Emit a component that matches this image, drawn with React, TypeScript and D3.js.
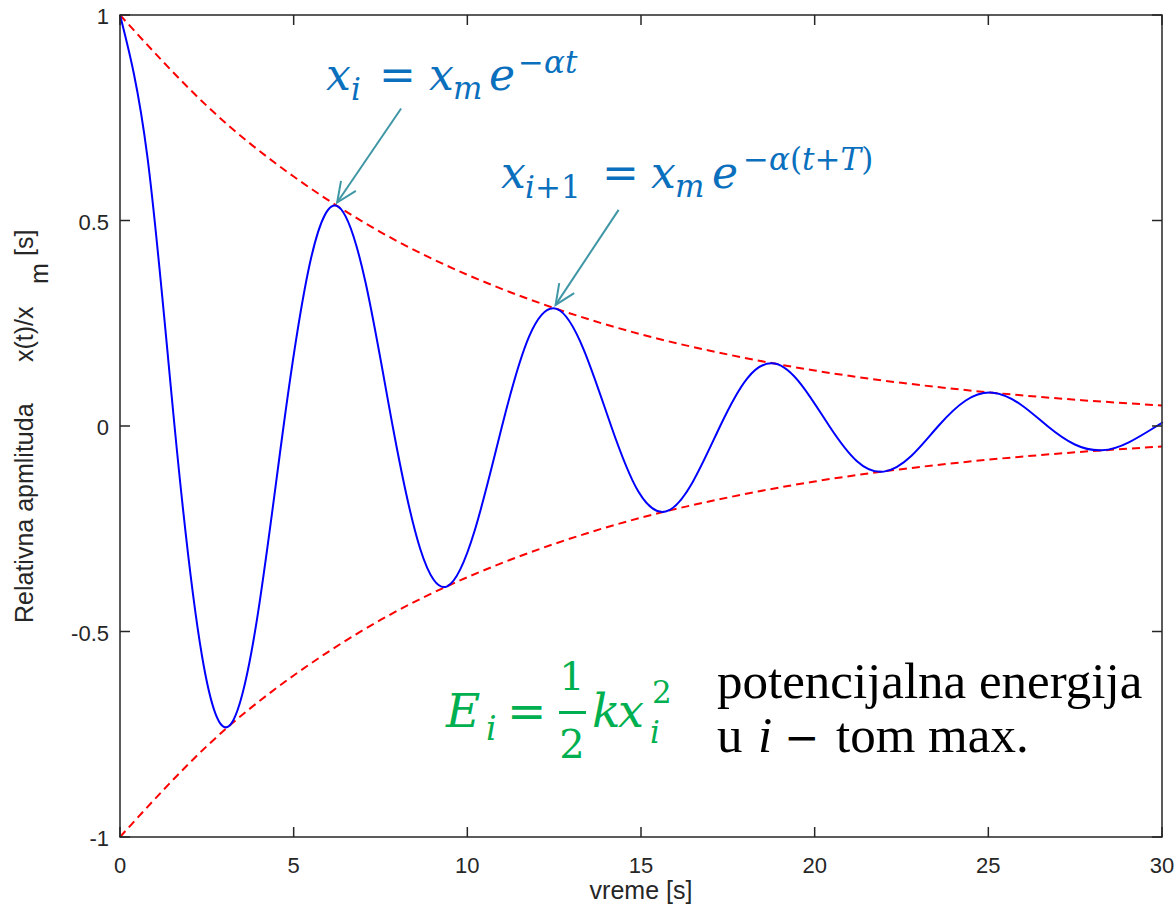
import React from "react";
import * as d3 from "d3";

// ---- data ----
const time = [0, 0.79, 1.57, 2.36, 3.14, 3.93, 4.71, 5.5, 6.28, 7.07, 7.85, 8.64, 9.42, 10.21, 11.0, 11.78, 12.57, 13.35, 14.14, 14.92, 15.71, 16.49, 17.28, 18.06, 18.85, 19.63, 20.42, 21.21, 21.99, 22.78, 23.56, 24.35, 25.13, 25.92, 26.7, 27.49, 28.27, 29.06, 29.85, 30];
const relAmp = [1.0, 0.654, 0.0, -0.559, -0.73, -0.478, 0.0, 0.408, 0.534, 0.349, 0.0, -0.298, -0.39, -0.255, 0.0, 0.218, 0.285, 0.186, 0.0, -0.159, -0.208, -0.136, 0.0, 0.116, 0.152, 0.099, 0.0, -0.085, -0.111, -0.073, 0.0, 0.062, 0.081, 0.053, 0.0, -0.045, -0.059, -0.039, 0.0, 0.007];
const envTime = [0, 2.5, 5, 7.5, 10, 12.5, 15, 17.5, 20, 22.5, 25, 27.5, 30];
const envUpper = [1.0, 0.779, 0.607, 0.472, 0.368, 0.287, 0.223, 0.174, 0.135, 0.105, 0.082, 0.064, 0.05];
const envLower = [-1.0, -0.779, -0.607, -0.472, -0.368, -0.287, -0.223, -0.174, -0.135, -0.105, -0.082, -0.064, -0.05];
const xTicks = [0, 5, 10, 15, 20, 25, 30];
const yTicks = [-1, -0.5, 0, 0.5, 1];
const yTickLabels = ["-1", "-0.5", "0", "0.5", "1"];
const arrowTime = [6.28, 12.57];
const arrowValue = [0.534, 0.285];

const W = 1175;
const H = 907;
const L = 120, R = 1162, T = 15, B = 837;
const AX = "#262626";
const BLUE_TXT = "#0a70bd";
const GREEN_TXT = "#00b050";
const ARROW = "#3f97a5";
const MATH = "'DejaVu Serif', serif";
const SANS = "'Liberation Sans', Arial, sans-serif";
const SERIF = "'Liberation Serif', 'Times New Roman', serif";

export default function App() {
  const x = d3.scaleLinear().domain([0, 30]).range([L, R]);
  const y = d3.scaleLinear().domain([-1, 1]).range([B, T]);

  const curve = d3
    .line<number>()
    .x((_, i) => x(time[i]))
    .y((d) => y(d))
    .curve(d3.curveNatural)(relAmp) as string;
  const up = d3
    .line<number>()
    .x((_, i) => x(envTime[i]))
    .y((d) => y(d))
    .curve(d3.curveNatural)(envUpper) as string;
  const lo = d3
    .line<number>()
    .x((_, i) => x(envTime[i]))
    .y((d) => y(d))
    .curve(d3.curveNatural)(envLower) as string;

  const tails = [
    [64, -94],
    [63, -95],
  ];
  const arrows = arrowTime.map((t, i) => {
    const tx = x(t) - 1;
    const ty = y(arrowValue[i]) - 4;
    const sx = tx + tails[i][0];
    const sy = ty + tails[i][1];
    const ang = Math.atan2(ty - sy, tx - sx);
    const hl = 22, ha = 0.42;
    const h1 = [tx - hl * Math.cos(ang - ha), ty - hl * Math.sin(ang - ha)];
    const h2 = [tx - hl * Math.cos(ang + ha), ty - hl * Math.sin(ang + ha)];
    return { tx, ty, sx, sy, h1, h2 };
  });

  return (
    <svg
      width={W}
      height={H}
      style={{ position: "absolute", left: 0, top: 0, background: "#fff" }}
    >
      <rect x={0} y={0} width={W} height={H} fill="#fff" />
      {/* curves */}
      <path d={up} fill="none" stroke="#ff0000" strokeWidth={2} strokeDasharray="8,5" />
      <path d={lo} fill="none" stroke="#ff0000" strokeWidth={2} strokeDasharray="8,5" />
      <path d={curve} fill="none" stroke="#0000ff" strokeWidth={2} />

      {/* axes box */}
      <rect x={L} y={T} width={R - L} height={B - T} fill="none" stroke={AX} strokeWidth={1.5} />
      {xTicks.map((t) => (
        <g key={"xt" + t}>
          <line x1={x(t)} x2={x(t)} y1={B} y2={B - 10} stroke={AX} strokeWidth={1.5} />
          <line x1={x(t)} x2={x(t)} y1={T} y2={T + 10} stroke={AX} strokeWidth={1.5} />
          <text x={x(t)} y={873} textAnchor="middle" fontFamily={SANS} fontSize={22} fill={AX}>
            {t}
          </text>
        </g>
      ))}
      {yTicks.map((v, i) => (
        <g key={"yt" + v}>
          <line x1={L} x2={L + 10} y1={y(v)} y2={y(v)} stroke={AX} strokeWidth={1.5} />
          <line x1={R} x2={R - 10} y1={y(v)} y2={y(v)} stroke={AX} strokeWidth={1.5} />
          <text x={109} y={y(v) + 9} textAnchor="end" fontFamily={SANS} fontSize={22} fill={AX}>
            {yTickLabels[i]}
          </text>
        </g>
      ))}

      {/* axis labels */}
      <text x={(L + R) / 2} y={899} textAnchor="middle" fontFamily={SANS} fontSize={25} fill={AX}>
        vreme [s]
      </text>
      <g fontFamily={SANS} fontSize={25} fill={AX}>
        <text transform="translate(33,623) rotate(-90)">Relativna apmlituda</text>
        <text transform="translate(33,362) rotate(-90)">x(t)/x</text>
        <text transform="translate(48,284) rotate(-90)">m</text>
        <text transform="translate(33,256) rotate(-90)">[s]</text>
      </g>

      {/* arrows */}
      {arrows.map((a, i) => (
        <g key={"ar" + i} stroke={ARROW} strokeWidth={2} fill="none">
          <line x1={a.sx} y1={a.sy} x2={a.tx} y2={a.ty} />
          <polyline points={`${a.h1[0]},${a.h1[1]} ${a.tx},${a.ty} ${a.h2[0]},${a.h2[1]}`} />
        </g>
      ))}

      {/* equation 1 */}
      <g fill={BLUE_TXT} fontFamily={MATH}>
        <text x={326} y={90} fontSize={44} fontStyle="italic">x</text>
        <text x={351} y={100} fontSize={31} fontStyle="italic">i</text>
        <text x={379} y={90} fontSize={44}>=</text>
        <text x={429} y={90} fontSize={44} fontStyle="italic">x</text>
        <text x={453} y={99} fontSize={31} fontStyle="italic">m</text>
        <text x={489} y={90} fontSize={44} fontStyle="italic">e</text>
        <text x={518} y={73} fontSize={31}>
          −<tspan fontStyle="italic">αt</tspan>
        </text>
      </g>

      {/* equation 2 */}
      <g fill={BLUE_TXT} fontFamily={MATH}>
        <text x={501} y={188} fontSize={44} fontStyle="italic">x</text>
        <text x={525} y={198} fontSize={31}>
          <tspan fontStyle="italic">i</tspan>+1
        </text>
        <text x={602} y={188} fontSize={44}>=</text>
        <text x={651} y={188} fontSize={44} fontStyle="italic">x</text>
        <text x={675} y={197} fontSize={31} fontStyle="italic">m</text>
        <text x={712} y={188} fontSize={44} fontStyle="italic">e</text>
        <text x={743} y={170} fontSize={31}>
          −<tspan fontStyle="italic">α</tspan>(<tspan fontStyle="italic">t</tspan>+<tspan fontStyle="italic">T</tspan>)
        </text>
      </g>

      {/* equation 3 (green) */}
      <g fill={GREEN_TXT} fontFamily={MATH}>
        <text x={446} y={727} fontSize={47} fontStyle="italic">E</text>
        <text x={486} y={740} fontSize={33} fontStyle="italic">i</text>
        <text x={507} y={727} fontSize={47}>=</text>
        <text x={572} y={690} fontSize={40} textAnchor="middle">1</text>
        <rect x={559} y={711} width={27} height={3} />
        <text x={572} y={758} fontSize={40} textAnchor="middle">2</text>
        <text x={592} y={727} fontSize={47} fontStyle="italic">k</text>
        <text x={618} y={727} fontSize={46} fontStyle="italic">x</text>
        <text x={650} y={743} fontSize={31} fontStyle="italic">i</text>
        <text x={652} y={703} fontSize={31}>2</text>
      </g>

      {/* black text */}
      <g fill="#000" fontFamily={SERIF} fontSize={51}>
        <text x={717} y={698}>potencijalna energija</text>
        <text x={717} y={752}>u</text>
        <text x={758} y={752} fontStyle="italic">i</text>
        <text x={784} y={752} fontFamily={MATH} fontSize={42}>−</text>
        <text x={836} y={752}>tom max.</text>
      </g>
    </svg>
  );
}
